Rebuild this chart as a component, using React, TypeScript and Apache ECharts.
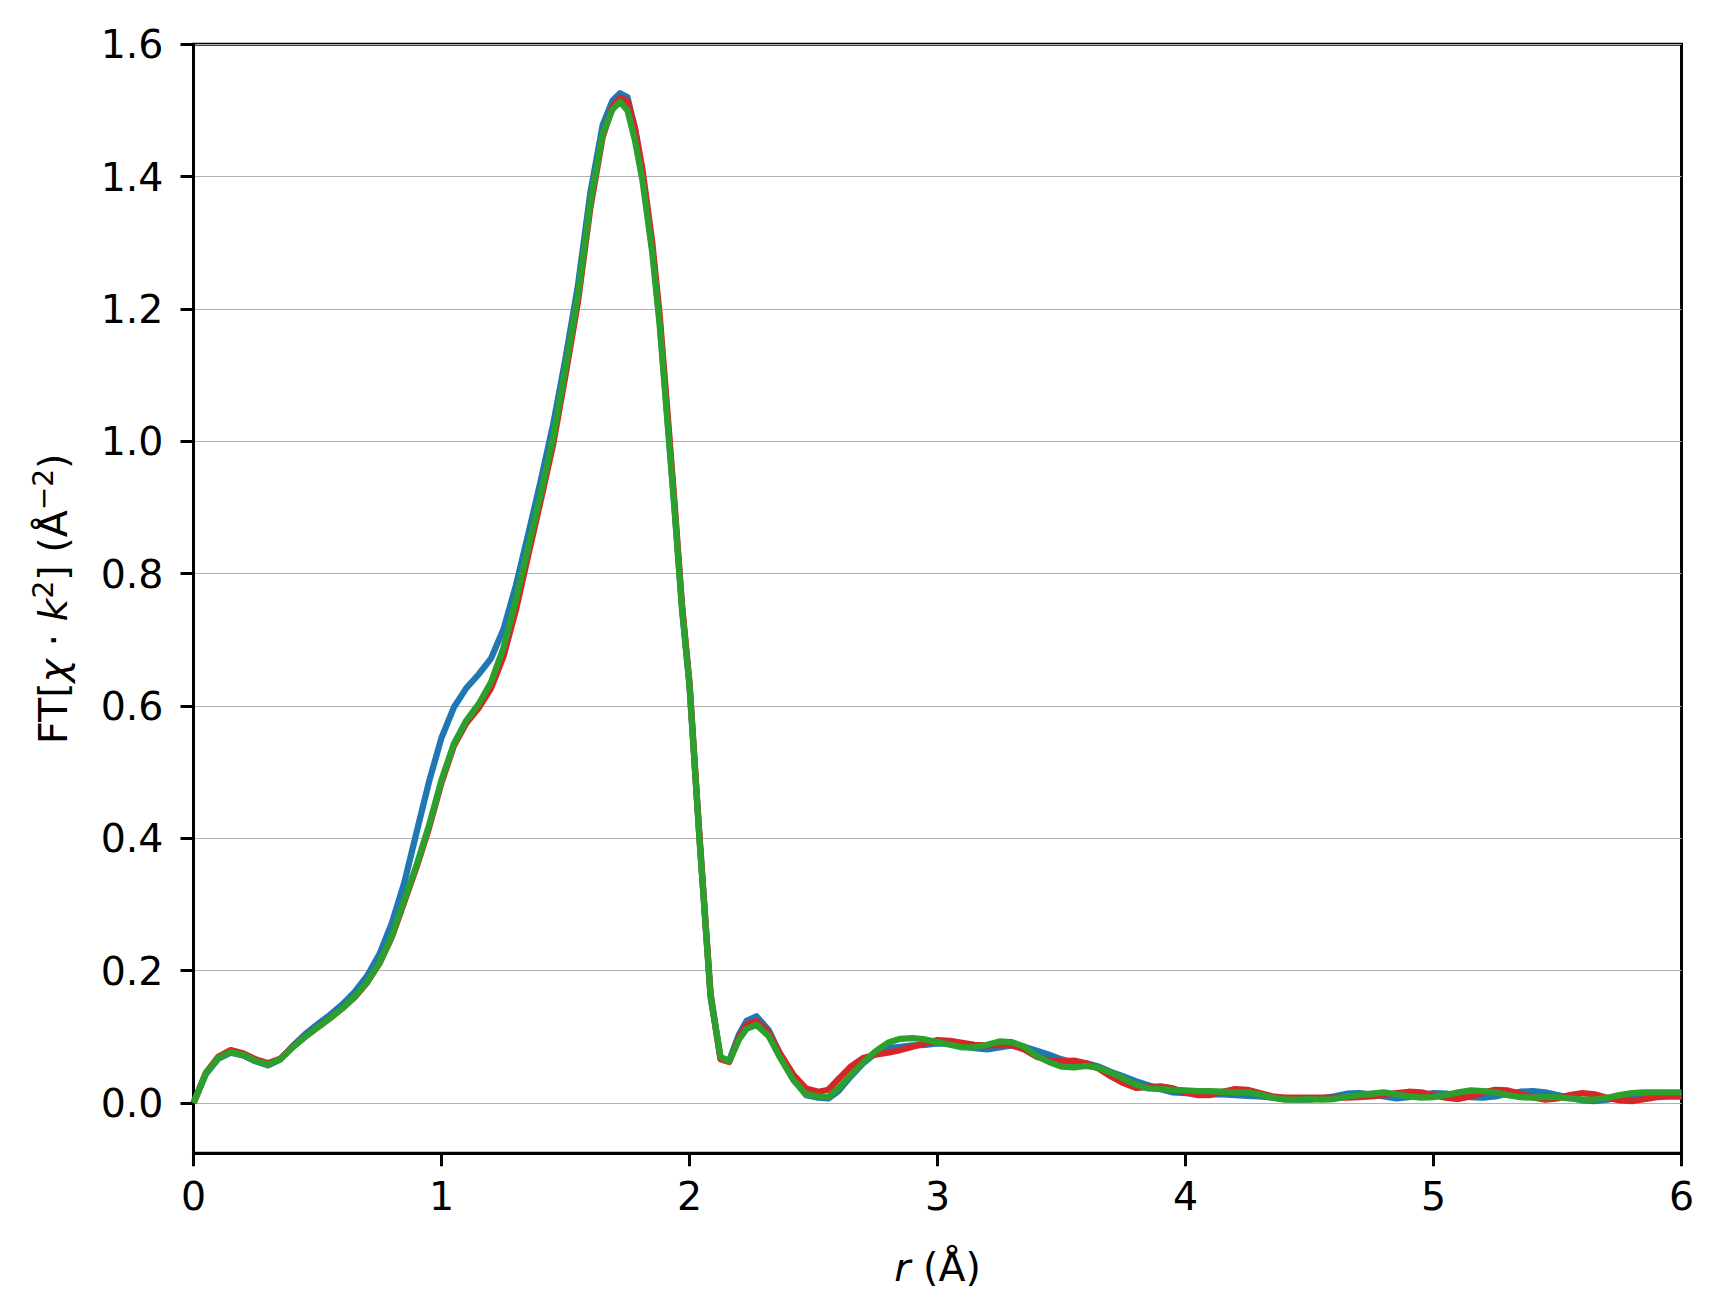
import React, { useEffect, useRef } from "react";
import * as echarts from "echarts";

// r grid (Å)
const R = [
  0, 0.05, 0.1, 0.15, 0.2, 0.25, 0.3, 0.35, 0.4, 0.45, 0.5, 0.55, 0.6, 0.65, 0.7, 0.75, 0.8, 0.85, 0.9, 0.95,
  1.0, 1.05, 1.1, 1.15, 1.2, 1.25, 1.3, 1.35, 1.4, 1.45, 1.5, 1.55, 1.6, 1.65,
  1.69, 1.72, 1.75, 1.78, 1.81, 1.85, 1.88, 1.91, 1.94, 1.97, 2.0, 2.04, 2.085, 2.125, 2.16, 2.2, 2.23, 2.27,
  2.32, 2.36, 2.42, 2.47, 2.52, 2.56,
  2.6, 2.65, 2.7, 2.75, 2.8, 2.85, 2.9, 2.95, 3.0, 3.05, 3.1, 3.15, 3.2, 3.25, 3.3, 3.35, 3.4, 3.45, 3.5, 3.55,
  3.6, 3.65, 3.7, 3.75, 3.8, 3.85, 3.9, 3.95, 4.0, 4.05, 4.1, 4.15, 4.2, 4.25, 4.3, 4.35, 4.4, 4.45, 4.5, 4.55,
  4.6, 4.65, 4.7, 4.75, 4.8, 4.85, 4.9, 4.95, 5.0, 5.05, 5.1, 5.15, 5.2, 5.25, 5.3, 5.35, 5.4, 5.45, 5.5, 5.55,
  5.6, 5.65, 5.7, 5.75, 5.8, 5.85, 5.9, 5.95, 6.0,
];

const BLUE = [
  0.0, 0.044, 0.067, 0.076, 0.072, 0.063, 0.057, 0.066, 0.086, 0.104, 0.119, 0.133, 0.149, 0.168, 0.192, 0.225, 0.272, 0.333, 0.41, 0.486,
  0.552, 0.598, 0.627, 0.648, 0.672, 0.716, 0.782, 0.86, 0.94, 1.025, 1.125, 1.235, 1.375, 1.478,
  1.515, 1.526, 1.52, 1.472, 1.405, 1.29, 1.18, 1.04, 0.898, 0.748, 0.632, 0.402, 0.165, 0.068, 0.064, 0.104, 0.124, 0.131,
  0.11, 0.078, 0.036, 0.012, 0.008, 0.007,
  0.018, 0.04, 0.06, 0.075, 0.083, 0.085, 0.087, 0.088, 0.09, 0.089, 0.086, 0.083, 0.081, 0.084, 0.087, 0.085, 0.079, 0.073, 0.066, 0.061,
  0.06, 0.055, 0.047, 0.04, 0.033, 0.027, 0.021, 0.016, 0.015, 0.014, 0.013, 0.013, 0.012, 0.011, 0.01, 0.008, 0.006, 0.005, 0.005, 0.007,
  0.01, 0.014, 0.015, 0.013, 0.01, 0.007, 0.009, 0.012, 0.015, 0.014, 0.012, 0.009, 0.008, 0.01, 0.014, 0.017, 0.018, 0.016, 0.012, 0.008,
  0.004, 0.003, 0.005, 0.008, 0.01, 0.01, 0.01, 0.01, 0.01,
];

const RED = [
  0.0, 0.046, 0.07, 0.08, 0.075, 0.066, 0.06, 0.067, 0.085, 0.1, 0.114, 0.128, 0.143, 0.16, 0.182, 0.211, 0.251, 0.304, 0.357, 0.416,
  0.484, 0.54, 0.574, 0.597, 0.627, 0.675, 0.745, 0.828, 0.91, 0.995, 1.1, 1.21, 1.352, 1.46,
  1.506, 1.519, 1.514, 1.474, 1.412, 1.3, 1.19, 1.05, 0.905, 0.752, 0.635, 0.405, 0.162, 0.066, 0.062, 0.1, 0.118, 0.124,
  0.106, 0.078, 0.042, 0.022, 0.017, 0.02,
  0.036, 0.055, 0.068, 0.073, 0.076, 0.08, 0.085, 0.09, 0.095, 0.094, 0.091, 0.088, 0.087, 0.088, 0.087, 0.081, 0.07, 0.064, 0.063, 0.064,
  0.06, 0.052, 0.04, 0.03, 0.023, 0.024, 0.025, 0.022, 0.016, 0.012, 0.012, 0.017, 0.021, 0.02, 0.015, 0.01, 0.008, 0.008, 0.008, 0.008,
  0.008, 0.008, 0.009, 0.01, 0.012, 0.015, 0.017, 0.016, 0.012, 0.008, 0.006, 0.01, 0.016, 0.02, 0.019, 0.014, 0.009, 0.005, 0.007, 0.012,
  0.015, 0.013, 0.008, 0.004, 0.003, 0.006, 0.009, 0.01, 0.01,
];

const GREEN = [
  0.0, 0.045, 0.068, 0.077, 0.073, 0.064, 0.058, 0.066, 0.084, 0.1, 0.114, 0.128, 0.143, 0.161, 0.183, 0.212, 0.253, 0.307, 0.36, 0.42,
  0.488, 0.543, 0.578, 0.603, 0.636, 0.688, 0.76, 0.84, 0.92, 1.005, 1.11, 1.22, 1.36, 1.465,
  1.502, 1.513, 1.5, 1.455, 1.395, 1.285, 1.175, 1.035, 0.895, 0.745, 0.63, 0.4, 0.16, 0.07, 0.063, 0.096, 0.112, 0.118,
  0.101, 0.072, 0.034, 0.013, 0.01, 0.009,
  0.022, 0.042, 0.061, 0.078, 0.091, 0.097, 0.098, 0.096, 0.092, 0.088, 0.084, 0.084, 0.088, 0.093, 0.092, 0.085, 0.071, 0.062, 0.055, 0.054,
  0.056, 0.053, 0.046, 0.037, 0.028, 0.022, 0.021, 0.02, 0.019, 0.018, 0.018, 0.017, 0.016, 0.016, 0.013, 0.008, 0.005, 0.005, 0.006, 0.005,
  0.006, 0.01, 0.012, 0.014, 0.016, 0.013, 0.01, 0.008, 0.009, 0.012, 0.016, 0.019, 0.018, 0.016, 0.012, 0.009, 0.008, 0.009, 0.009, 0.007,
  0.005, 0.005, 0.008, 0.012, 0.015, 0.016, 0.016, 0.016, 0.016,
];

const Y_TICKS = [0, 0.2, 0.4, 0.6, 0.8, 1.0, 1.2, 1.4, 1.6];
const X_TICKS = [0, 1, 2, 3, 4, 5, 6];

const SERIES = [
  { name: "blue", color: "#1f77b4", values: BLUE },
  { name: "red", color: "#d62728", values: RED },
  { name: "green", color: "#2ca02c", values: GREEN },
];

const FONT = "DejaVu Sans";

export default function App() {
  const ref = useRef<HTMLDivElement>(null);

  useEffect(() => {
    if (!ref.current) return;
    const chart = echarts.init(ref.current, null, { renderer: "svg" });
    const base = { fontFamily: FONT, fontSize: 39.5, color: "#000" };
    const ital = { fontFamily: FONT, fontSize: 39.5, color: "#000", fontStyle: "italic" as const };
    const sup = {
      fontFamily: FONT,
      fontSize: 28,
      color: "#000",
      verticalAlign: "bottom" as const,
      padding: [0, 0, 18, 0],
    };
    chart.setOption({
      animation: false,
      backgroundColor: "#ffffff",
      grid: {
        left: 193.5,
        right: 42.5,
        top: 44.3,
        bottom: 162.7,
        show: true,
        borderColor: "#000",
        borderWidth: 3,
        backgroundColor: "transparent",
      },
      xAxis: {
        type: "value",
        min: 0,
        max: 6,
        interval: 1,
        name: "{i|r}{n| (Å)}",
        nameLocation: "middle",
        nameGap: 94,
        nameTextStyle: { ...base, rich: { i: ital, n: base } },
        axisLine: { show: true, onZero: false, lineStyle: { color: "#000", width: 3 } },
        axisTick: { show: true, inside: false, length: 13, lineStyle: { color: "#000", width: 3 }, customValues: X_TICKS },
        axisLabel: { ...base, margin: 23, customValues: X_TICKS, formatter: (v: number) => String(v) },
        splitLine: { show: false },
      },
      yAxis: {
        type: "value",
        min: -0.076,
        max: 1.6,
        interval: 0.2,
        name: "{n|FT[}{i|χ}{n| · }{i|k}{s|2}{n|] (Å}{s|−2}{n|)}",
        nameLocation: "middle",
        nameGap: 118,
        nameTextStyle: { ...base, rich: { i: ital, n: base, s: sup } },
        axisLine: { show: true, onZero: false, lineStyle: { color: "#000", width: 3 } },
        axisTick: { show: true, inside: false, length: 13, lineStyle: { color: "#000", width: 3 }, customValues: Y_TICKS },
        axisLabel: { ...base, margin: 30, customValues: Y_TICKS, formatter: (v: number) => v.toFixed(1) },
        splitLine: { show: true, lineStyle: { color: "#b0b0b0", width: 1.1 } },
      },
      series: SERIES.map((s) => ({
        type: "line",
        name: s.name,
        data: R.map((r, i) => [r, s.values[i]]),
        showSymbol: false,
        symbol: "none",
        smooth: false,
        clip: true,
        lineStyle: { color: s.color, width: 6.3, join: "round", cap: "butt" },
        itemStyle: { color: s.color },
        z: 3,
      })),
    });
    return () => chart.dispose();
  }, []);

  return (
    <div
      ref={ref}
      style={{ position: "absolute", left: 0, top: 0, width: 1724, height: 1316, background: "#fff" }}
    />
  );
}
